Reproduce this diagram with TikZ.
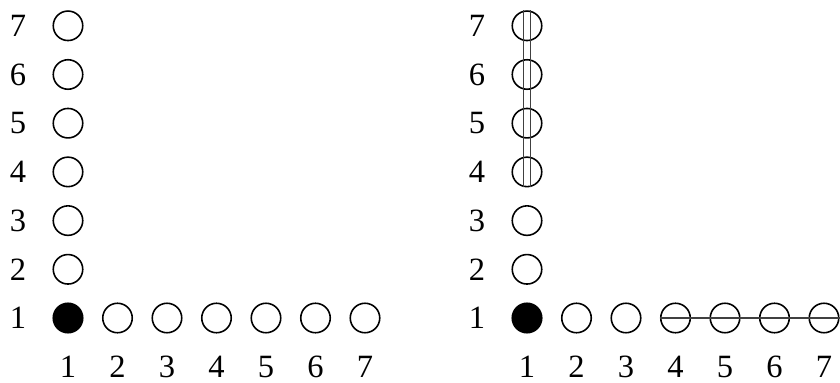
\documentclass[tikz,border=0pt]{standalone}
\usepackage{fontspec}
\setmainfont{Liberation Serif}
\tikzset{
  site/.style={circle, draw, line width=0.9pt, minimum size=0.59cm, inner sep=0pt},
  seed/.style={site, fill=black},
  idx/.style={font=\fontsize{18.5}{22}\selectfont, inner sep=0pt},
  tie/.style={line width=0.8pt, draw=black!75}
}
\begin{document}
\begin{tikzpicture}
  \useasboundingbox (0,0) rectangle (16.8,-7.66);
  % two panels, same lattice
  \foreach \p/\sx in {L/1.36, R/10.54} {
    \begin{scope}[shift={(\sx,-6.36)}, x=0.99cm, y=0.974cm]
      \node[seed] (\p c1) at (0,0) {};
      \foreach \i in {2,...,7} {
        \node[site] (\p c\i) at (\i-1,0) {};
        \node[site] (\p r\i) at (0,\i-1) {};
      }
      \foreach \i in {1,...,7} {
        \node[idx] (\p x\i) at (\i-1,-1.0) {\i};
        \node[idx] (\p y\i) at (-1.01,\i-1) {\i};
      }
    \end{scope}
  }
  % bonds on the right panel
  \draw[tie] ([xshift=-0.07cm]Rr7.north) -- ([xshift=-0.07cm]Rr4.south);
  \draw[tie] ([xshift=0.07cm]Rr7.north) -- ([xshift=0.07cm]Rr4.south);
  \draw[tie] (Rc4.west) -- (Rc7.east);
\end{tikzpicture}
\end{document}
